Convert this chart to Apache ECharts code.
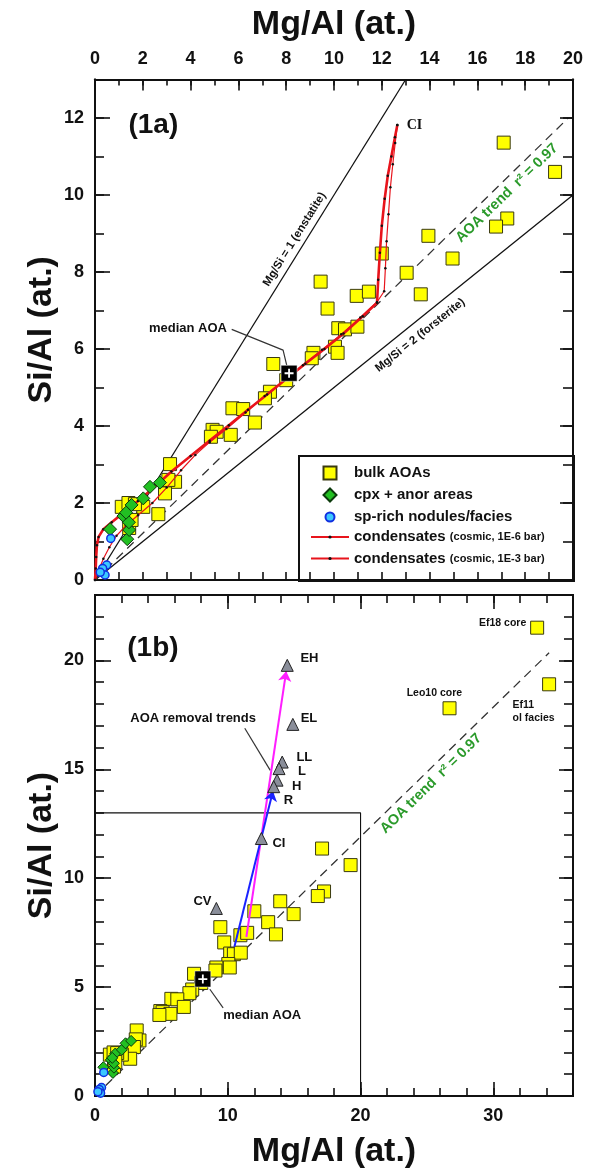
<!DOCTYPE html>
<html><head><meta charset="utf-8">
<script src="https://cdn.jsdelivr.net/npm/echarts@6/dist/echarts.min.js"></script>
<style>html,body{margin:0;padding:0;background:#fff}#c{width:594px;height:1170px}</style>
</head><body><div id="c"></div>
<script>
// ---------- data (Mg/Al, Si/Al) ----------
const bulkAOAs = [[17.1,11.36],[19.25,10.6],[17.25,9.39],[16.78,9.18],[13.95,8.94],[14.96,8.35],[12.0,8.48],[13.04,7.98],[13.63,7.42],[9.44,7.75],[9.73,7.05],[10.95,7.38],[11.46,7.49],[10.18,6.54],[10.46,6.51],[10.98,6.58],[10.04,6.06],[10.15,5.9],[9.14,5.9],[9.07,5.76],[7.46,5.61],[8.0,5.19],[7.32,4.89],[7.11,4.72],[5.75,4.46],[6.2,4.44],[6.69,4.09],[4.92,3.9],[5.09,3.85],[5.68,3.77],[4.85,3.72],[3.14,3.01],[3.35,2.55],[3.07,2.6],[2.93,2.25],[2.65,1.71],[2.02,1.9],[1.12,1.9],[1.4,2.0],[1.67,1.97],[1.43,1.35],[1.53,1.56]];
const extraAOAs = [[33.3,21.5],[26.7,17.8],[34.2,18.9]];
const cpxAnor = [[0.63,1.32],[1.35,1.06],[1.43,1.3],[1.19,1.66],[1.42,1.5],[1.53,1.95],[2.02,2.12],[2.3,2.42],[2.72,2.53],[1.3,1.75]];
const spRich = [[0.66,1.08],[0.49,0.39],[0.32,0.3],[0.42,0.13],[0.22,0.2]];
const cond1e6 = [[0,0],[0.03,0.3],[0.05,0.6],[0.08,0.9],[0.15,1.12],[0.35,1.32],[0.7,1.5],[1.2,1.75],[1.8,2.05],[2.5,2.42],[3.2,2.82],[4.0,3.22],[4.8,3.62],[5.6,4.02],[6.4,4.42],[7.2,4.82],[8.0,5.22],[8.8,5.62],[9.6,6.0],[10.4,6.4],[11.2,6.85],[11.8,7.2],[11.85,7.8],[11.92,8.5],[12.0,9.2],[12.12,9.9],[12.25,10.5],[12.4,11.0],[12.55,11.5],[12.65,11.82]];
const cond1e3 = [[0,0],[0.15,0.25],[0.35,0.55],[0.6,0.85],[0.9,1.15],[1.3,1.42],[1.8,1.68],[2.4,2.0],[3.0,2.4],[3.6,2.85],[4.2,3.25],[4.8,3.58],[5.5,3.92],[6.3,4.35],[7.1,4.78],[7.9,5.18],[8.7,5.58],[9.5,5.98],[10.3,6.38],[11.1,6.82],[11.8,7.22],[12.1,7.5],[12.15,8.1],[12.2,8.8],[12.28,9.5],[12.36,10.2],[12.46,10.8],[12.56,11.35],[12.65,11.82]];
const medianAOA = [[8.12,5.37]];
const meteorites = [[14.48,19.77,'EH'],[14.9,17.06,'EL'],[14.1,15.33,'LL'],[13.86,15.03,'L'],[13.71,14.5,'H'],[13.46,14.2,'R'],[12.53,11.82,'CI'],[9.14,8.61,'CV']];
const meteoriteLabels = [[15.47,20.08,'EH','left'],[15.49,17.34,'EL','left'],[15.17,15.56,'LL','left'],[15.29,14.88,'L','left'],[14.83,14.19,'H','left'],[14.21,13.58,'R','left'],[13.36,11.59,'CI','left'],[8.77,8.91,'CV','right']];
const enstatite = [[0,0],[13,13]];
const forsterite = [[0,0],[20,10]];
const trend1a = [[0,0],[19.8,12.0]];
const trend1b = [[0,0],[34.2,20.35]];
const arrowMagenta = [[11.4,7.3],[14.4,19.5]];
const arrowBlue = [[10.5,6.85],[13.4,14.0]];
const box1a = [[0,0],[0,13],[20,13],[20,0]];
const leader1a = [[5.72,6.51],[7.87,5.97],[8.02,5.58]];
const leader1b = [[8.65,4.9],[9.65,4.05]];
const leaderRemoval = [[11.28,16.88],[13.2,14.95]];
// axis ranges [min, max, labelled step, minor step]
const xRange1a = [0, 20, 2, 1];
const yRange1a = [0, 13, 2, 1];
const xRange1b = [0, 36, 10, 2];
const yRange1b = [0, 23, 5, 1];
// text annotations [x, y, text, align, rotate]
const texts1a = [[2.44,11.8,'(1a)','center',0]];
const smallTexts1a = [[3.89,6.54,'median AOA','center',0]];
const lineTexts1a = [[8.35,8.85,'Mg/Si = 1 (enstatite)','center',58],[13.6,6.36,'Mg/Si = 2 (forsterite)','center',38.5]];
const greenTexts1a = [[17.24,10.05,'AOA trend  r² = 0.97','center',44]];
const ciText1a = [[13.04,11.82,'CI','left',0]];
const texts1b = [[4.36,20.55,'(1b)','center',0]];
const smallTexts1b = [[9.65,3.72,'median AOA','left',0],[7.39,17.33,'AOA removal trends','center',0]];
const tinyTexts1b = [[32.48,21.71,'Ef18 core','right',0],[25.56,18.5,'Leo10 core','center',0],[31.45,17.66,'Ef11\nol facies','left',0]];
const greenTexts1b = [[25.31,14.34,'AOA trend  r² = 0.97','center',44.5]];

const F = '"Liberation Sans", Arial, sans-serif';
const K = '#111';

function axis(gi, pos, r, step, len, withLabels, extra) {
  return Object.assign({
    type:'value', gridIndex:gi, position:pos, min:r[0], max:r[1], interval:step,
    axisLine:{show:true, onZero:false, lineStyle:{color:K, width:2}},
    axisTick:{show:true, inside:true, length:len, lineStyle:{color:K, width:1.6}},
    axisLabel:{show:withLabels, fontSize:18, fontWeight:'bold', color:K, fontFamily:F, margin:11, showMaxLabel:(r[1] % step === 0)},
    splitLine:{show:false}, z:3
  }, extra || {});
}
const nameStyle = {fontSize:34, fontWeight:'bold', color:K, fontFamily:F};

const xAxis = [
  axis(0,'top',xRange1a,xRange1a[2],11,true,{name:'Mg/Al (at.)', nameLocation:'middle', nameGap:38, nameTextStyle:nameStyle}),
  axis(0,'top',xRange1a,xRange1a[3],6,false),
  axis(0,'bottom',xRange1a,xRange1a[3],8,false),
  axis(1,'bottom',xRange1b,xRange1b[2],14,true,{name:'Mg/Al (at.)', nameLocation:'middle', nameGap:39, nameTextStyle:nameStyle}),
  axis(1,'bottom',xRange1b,xRange1b[3],8,false),
  axis(1,'top',xRange1b,xRange1b[2],14,false),
  axis(1,'top',xRange1b,xRange1b[3],8,false)
];
const yName = {name:'Si/Al (at.)', nameLocation:'middle', nameGap:36, nameRotate:90, nameMoveOverlap:false, nameTextStyle:nameStyle};
const yAxis = [
  axis(0,'left',yRange1a,yRange1a[2],15,true,yName),
  axis(0,'left',yRange1a,yRange1a[3],9,false),
  axis(0,'right',yRange1a,yRange1a[2],13,false),
  axis(0,'right',yRange1a,yRange1a[3],10,false),
  axis(1,'left',yRange1b,yRange1b[2],16,true,yName),
  axis(1,'left',yRange1b,yRange1b[3],9,false),
  axis(1,'right',yRange1b,yRange1b[2],14,false),
  axis(1,'right',yRange1b,yRange1b[3],9,false)
];
const A = {xAxisIndex:0, yAxisIndex:0};
const B = {xAxisIndex:3, yAxisIndex:4};

function lineS(ax, name, data, style, extra) {
  return Object.assign({type:'line', name, data, symbol:'none', silent:true, clip:true, lineStyle:style, z:2}, ax, extra||{});
}
function textS(ax, name, items, style) {
  return Object.assign({
    type:'scatter', name, silent:true, symbol:'circle', symbolSize:1, z:6,
    itemStyle:{color:'rgba(0,0,0,0)', opacity:1},
    data: items.map(t => ({value:[t[0],t[1]], name:t[2], label:{align:t[3], rotate:t[4]||0}})),
    label:Object.assign({show:true, position:'inside', formatter:'{b}', color:K, opacity:1, fontWeight:'bold', fontFamily:F, verticalAlign:'middle'}, style)
  }, ax);
}
const sqStyle = {color:'#ffff00', borderColor:'#3a3a10', borderWidth:1, opacity:1};
const diaStyle = {color:'#22c022', borderColor:'#0b3a0b', borderWidth:1, opacity:1};
const cirStyle = {color:'#3cc8ff', borderColor:'#1030e0', borderWidth:1.5, opacity:1};
const crossPath = 'path://M4,0H6V4H10V6H6V10H4V6H0V4H4Z';

function medianS(ax) {
  return [
    Object.assign({type:'scatter', name:'median AOA', data:medianAOA, symbol:'rect', symbolSize:16, itemStyle:{color:'#000', borderColor:'#fff', borderWidth:0.5, opacity:1}, z:5, silent:true}, ax),
    Object.assign({type:'scatter', name:'median cross', data:medianAOA, symbol:crossPath, symbolSize:9, itemStyle:{color:'#fff', opacity:1}, z:5, silent:true}, ax)
  ];
}

const series = [
  // ---- panel 1a ----
  lineS(A,'Mg/Si = 1', enstatite, {color:K, width:1.3}),
  lineS(A,'Mg/Si = 2', forsterite, {color:K, width:1.3}),
  lineS(A,'AOA trend 1a', trend1a, {color:'#333', width:1.3, type:[9,6]}),
  lineS(A,'median leader 1a', leader1a, {color:'#333', width:1.2}),
  Object.assign({type:'scatter', name:'bulk AOAs', data:bulkAOAs, symbol:'rect', symbolSize:13, itemStyle:sqStyle, z:3}, A),
  Object.assign({type:'line', name:'condensates (cosmic, 1E-6 bar)', data:cond1e6, symbol:'circle', symbolSize:2.5, showSymbol:true, itemStyle:{color:K}, lineStyle:{color:'#e8141c', width:2.6}, z:4, silent:true}, A),
  Object.assign({type:'line', name:'condensates (cosmic, 1E-3 bar)', data:cond1e3, symbol:'circle', symbolSize:2.5, showSymbol:true, itemStyle:{color:K}, lineStyle:{color:'#e8141c', width:1.2}, z:4, silent:true}, A),
  Object.assign({type:'scatter', name:'cpx + anor areas', data:cpxAnor, symbol:'diamond', symbolSize:13, itemStyle:diaStyle, z:4}, A),
  Object.assign({type:'scatter', name:'sp-rich nodules/facies', data:spRich, symbol:'circle', symbolSize:8, itemStyle:cirStyle, z:4}, A),
  ...medianS(A),
  textS(A,'t1a', texts1a, {fontSize:28}),
  textS(A,'s1a', smallTexts1a, {fontSize:13}),
  textS(A,'l1a', lineTexts1a, {fontSize:11.5}),
  textS(A,'g1a', greenTexts1a, {fontSize:14.5, color:'#2a9a2a'}),
  textS(A,'ci1a', ciText1a, {fontSize:14, fontFamily:'"Liberation Serif", serif'}),
  // ---- panel 1b ----
  lineS(B,'1a frame', box1a, {color:K, width:1.1}),
  lineS(B,'AOA trend 1b', trend1b, {color:'#333', width:1.3, type:[9,6]}),
  lineS(B,'median leader 1b', leader1b, {color:'#333', width:1.2}),
  lineS(B,'removal leader', leaderRemoval, {color:'#333', width:1.2}),
  Object.assign({type:'scatter', name:'bulk AOAs', data:bulkAOAs.concat(extraAOAs), symbol:'rect', symbolSize:13, itemStyle:sqStyle, z:3}, B),
  Object.assign({type:'scatter', name:'cpx + anor areas', data:cpxAnor, symbol:'diamond', symbolSize:11, itemStyle:diaStyle, z:4}, B),
  Object.assign({type:'scatter', name:'sp-rich nodules/facies', data:spRich, symbol:'circle', symbolSize:8, itemStyle:cirStyle, z:4}, B),
  Object.assign({type:'lines', name:'removal magenta', coordinateSystem:'cartesian2d', polyline:false, data:[{coords:arrowMagenta}], symbol:['none','arrow'], symbolSize:10, lineStyle:{color:'#ff1eff', width:2, opacity:1}, z:4, silent:true}, B),
  Object.assign({type:'lines', name:'removal blue', coordinateSystem:'cartesian2d', polyline:false, data:[{coords:arrowBlue}], symbol:['none','arrow'], symbolSize:10, lineStyle:{color:'#1a22ff', width:2, opacity:1}, z:4, silent:true}, B),
  Object.assign({type:'scatter', name:'chondrite groups', data:meteorites.map(m=>[m[0],m[1]]), symbol:'triangle', symbolSize:12, itemStyle:{color:'#8a8e9a', borderColor:'#222', borderWidth:1, opacity:1}, z:4, silent:true}, B),
  ...medianS(B),
  textS(B,'t1b', texts1b, {fontSize:28}),
  textS(B,'s1b', smallTexts1b, {fontSize:13}),
  textS(B,'m1b', meteoriteLabels, {fontSize:13}),
  textS(B,'tiny1b', tinyTexts1b, {fontSize:10.5, lineHeight:13}),
  textS(B,'g1b', greenTexts1b, {fontSize:14.5, color:'#2a9a2a'})
];

const legTxt = {fontSize:15, fontWeight:'bold', color:K, fontFamily:F,
  rich:{a:{fontSize:15, fontWeight:'bold', color:K, fontFamily:F}, b:{fontSize:11, fontWeight:'bold', color:K, fontFamily:F}}};
const legendIcons = {
  'bulk AOAs':'path://M0,0H10V10H0Z',
  'cpx + anor areas':'path://M5,0L10,5L5,10L0,5Z',
  'sp-rich nodules/facies':'path://M5,0A5,5,0,1,1,4.999,0Z'
};
// icon box starts at 310; path icons are centred in it, so shift by the empty margin
function leg(name, top, h) {
  const item = legendIcons[name] ? {name, icon:legendIcons[name]} : {name};
  const shift = legendIcons[name] ? (38 - h) / 2 : 0;
  return {data:[item], left:310 + shift, top, orient:'vertical', padding:0, itemWidth:38, itemHeight:h, selectedMode:false,
    symbolKeepAspect:true, textStyle:legTxt,
    formatter: n => n.indexOf('condensates') === 0 ? '{a|condensates} {b|' + n.slice(12) + '}' : n};
}
const option = {
  animation:false,
  backgroundColor:'#fff',
  grid:[{left:95, top:79.5, width:478, height:500.5}, {left:95, top:595, width:478, height:501}],
  xAxis, yAxis, series,
  legend:[
    leg('bulk AOAs', 465.5, 13),
    leg('cpx + anor areas', 487.5, 13),
    leg('sp-rich nodules/facies', 509.5, 9),
    leg('condensates (cosmic, 1E-6 bar)', 529.5, 4),
    leg('condensates (cosmic, 1E-3 bar)', 551, 4)
  ],
  graphic:[{type:'rect', left:298, top:455, shape:{width:275, height:125}, style:{fill:'#fff', stroke:K, lineWidth:2}, z:1}]
};
const chart = echarts.init(document.getElementById('c'), null, {renderer:'canvas'});
chart.setOption(option);
</script></body></html>
